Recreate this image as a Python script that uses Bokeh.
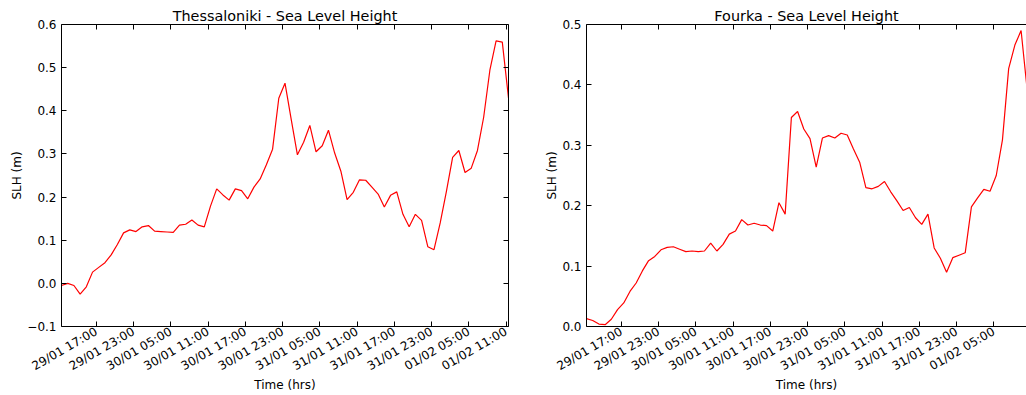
import math
import numpy as np
from bokeh.plotting import figure
from bokeh.layouts import row
from bokeh.models import (FixedTicker, DatetimeTickFormatter, LinearAxis,
                          CustomJSTickFormatter, Range1d)
from bokeh.embed import file_html
from bokeh.resources import INLINE

# ---------------- data ----------------
START_TIME = "2015-01-29T11:24"   # first hourly sample
SAMPLE_STEP_HOURS = 1

thessaloniki_slh = [
    -0.005, 0.000, -0.005, -0.025, -0.008, 0.026, 0.037, 0.048, 0.066, 0.090,
    0.117, 0.124, 0.120, 0.131, 0.134, 0.121, 0.120, 0.119, 0.118, 0.135,
    0.137, 0.147, 0.135, 0.131, 0.179, 0.219, 0.205, 0.193, 0.219, 0.215,
    0.196, 0.223, 0.242, 0.275, 0.311, 0.429, 0.464, 0.380, 0.298, 0.327,
    0.366, 0.305, 0.319, 0.355, 0.302, 0.260, 0.194, 0.211, 0.240, 0.239,
    0.223, 0.207, 0.177, 0.204, 0.212, 0.160, 0.131, 0.160, 0.146, 0.085,
    0.078, 0.140, 0.213, 0.292, 0.308, 0.257, 0.267, 0.308, 0.385, 0.494,
    0.562, 0.559, 0.430,
]

fourka_slh = [
    0.013, 0.010, 0.004, 0.003, 0.012, 0.028, 0.039, 0.058, 0.072, 0.092,
    0.109, 0.116, 0.127, 0.131, 0.132, 0.128, 0.124, 0.125, 0.124, 0.125,
    0.138, 0.125, 0.136, 0.153, 0.158, 0.177, 0.168, 0.171, 0.168, 0.167,
    0.158, 0.205, 0.186, 0.346, 0.356, 0.327, 0.311, 0.264, 0.312, 0.316,
    0.312, 0.320, 0.317, 0.294, 0.272, 0.230, 0.228, 0.232, 0.240, 0.223,
    0.208, 0.192, 0.197, 0.180, 0.169, 0.186, 0.130, 0.113, 0.090, 0.114,
    0.118, 0.122, 0.198, 0.213, 0.227, 0.224, 0.250, 0.309, 0.427, 0.466,
    0.490, 0.390,
]

x_tick_times = [
    "2015-01-29T17:00", "2015-01-29T23:00", "2015-01-30T05:00", "2015-01-30T11:00",
    "2015-01-30T17:00", "2015-01-30T23:00", "2015-01-31T05:00", "2015-01-31T11:00",
    "2015-01-31T17:00", "2015-01-31T23:00", "2015-02-01T05:00", "2015-02-01T11:00",
]

left_y_ticks = [-0.1, 0.0, 0.1, 0.2, 0.3, 0.4, 0.5, 0.6]
right_y_ticks = [0.0, 0.1, 0.2, 0.3, 0.4, 0.5]

titles = ["Thessaloniki - Sea Level Height", "Fourka - Sea Level Height"]
x_label = "Time (hrs)"
y_label = "SLH (m)"

# ---------------- helpers ----------------
HOUR_MS = 3600 * 1000
start_ms = float(np.datetime64(START_TIME, "ms").astype("int64"))


def times_for(values):
    return [start_ms + i * SAMPLE_STEP_HOURS * HOUR_MS for i in range(len(values))]


tick_ms = [float(np.datetime64(t, "ms").astype("int64")) for t in x_tick_times]

FONT = "DejaVu Sans"
FMT = "%d/%m %H:%M"
dt_fmt = DatetimeTickFormatter(
    microseconds=FMT, milliseconds=FMT, seconds=FMT, minsec=FMT, minutes=FMT,
    hourmin=FMT, hours=FMT, days=FMT, months=FMT, years=FMT)

empty_fmt = CustomJSTickFormatter(code="return '';")
y_fmt = CustomJSTickFormatter(code="""
    if (Math.abs(tick) < 1e-9) { return '0.0'; }
    if (tick < 0) { return '\\u2212' + Math.abs(tick).toFixed(1); }
    return tick.toFixed(1);
""")


def style_axis(ax, labels=True):
    ax.axis_line_color = "black"
    ax.axis_line_width = 1
    ax.major_tick_line_color = "black"
    ax.major_tick_in = 5
    ax.major_tick_out = 0
    ax.minor_tick_line_color = None
    ax.major_label_text_font = FONT
    ax.major_label_text_font_size = "12px"
    ax.major_label_text_color = "black"
    ax.axis_label_text_font = FONT
    ax.axis_label_text_font_size = "12px"
    ax.axis_label_text_font_style = "normal"
    ax.axis_label_text_color = "black"
    if not labels:
        ax.formatter = empty_fmt
        ax.major_label_text_font_size = "0px"
        ax.major_label_standoff = 0


def make_panel(title, values, y_ticks, width, border_left, border_right,
               x_hours, with_right_axis):
    p = figure(width=width, height=395, x_axis_type="datetime",
               output_backend="svg", toolbar_location=None,
               min_border_left=border_left, min_border_right=border_right,
               min_border_top=24, min_border_bottom=68,
               x_range=Range1d(start_ms, start_ms + x_hours * HOUR_MS),
               y_range=Range1d(y_ticks[0], y_ticks[-1]))
    p.background_fill_color = "white"
    p.border_fill_color = "white"
    p.outline_line_color = None
    p.xgrid.visible = False
    p.ygrid.visible = False

    p.title.text = title
    p.title.text_font = FONT
    p.title.text_font_size = "14.4px"
    p.title.text_font_style = "normal"
    p.title.text_color = "black"
    p.title.align = "center"
    p.title.standoff = 2

    xt = FixedTicker(ticks=tick_ms)
    yt = FixedTicker(ticks=y_ticks)

    xa = p.xaxis[0]
    xa.ticker = xt
    xa.formatter = dt_fmt
    xa.axis_label = x_label
    xa.major_label_orientation = math.radians(30)
    xa.major_label_standoff = 4
    xa.axis_label_standoff = -4
    style_axis(xa)

    ya = p.yaxis[0]
    ya.ticker = yt
    ya.formatter = y_fmt
    ya.axis_label = y_label
    ya.axis_label_standoff = 0
    style_axis(ya)

    top = LinearAxis(ticker=xt)
    style_axis(top, labels=False)
    p.add_layout(top, "above")

    if with_right_axis:
        right = LinearAxis(ticker=yt)
        style_axis(right, labels=False)
        p.add_layout(right, "right")

    p.line(times_for(values), values, line_color="#ff0000", line_width=1.2)
    return p


PX_PER_HOUR = 447.0 / 72.0
p1 = make_panel(titles[0], thessaloniki_slh, left_y_ticks, 530, 61, 22, 72.0, True)
p2 = make_panel(titles[1], fourka_slh, right_y_ticks, 496, 56, 0, 440.0 / PX_PER_HOUR, False)

layout = row(p1, p2)
open("out.html", "w").write(file_html(layout, INLINE))
